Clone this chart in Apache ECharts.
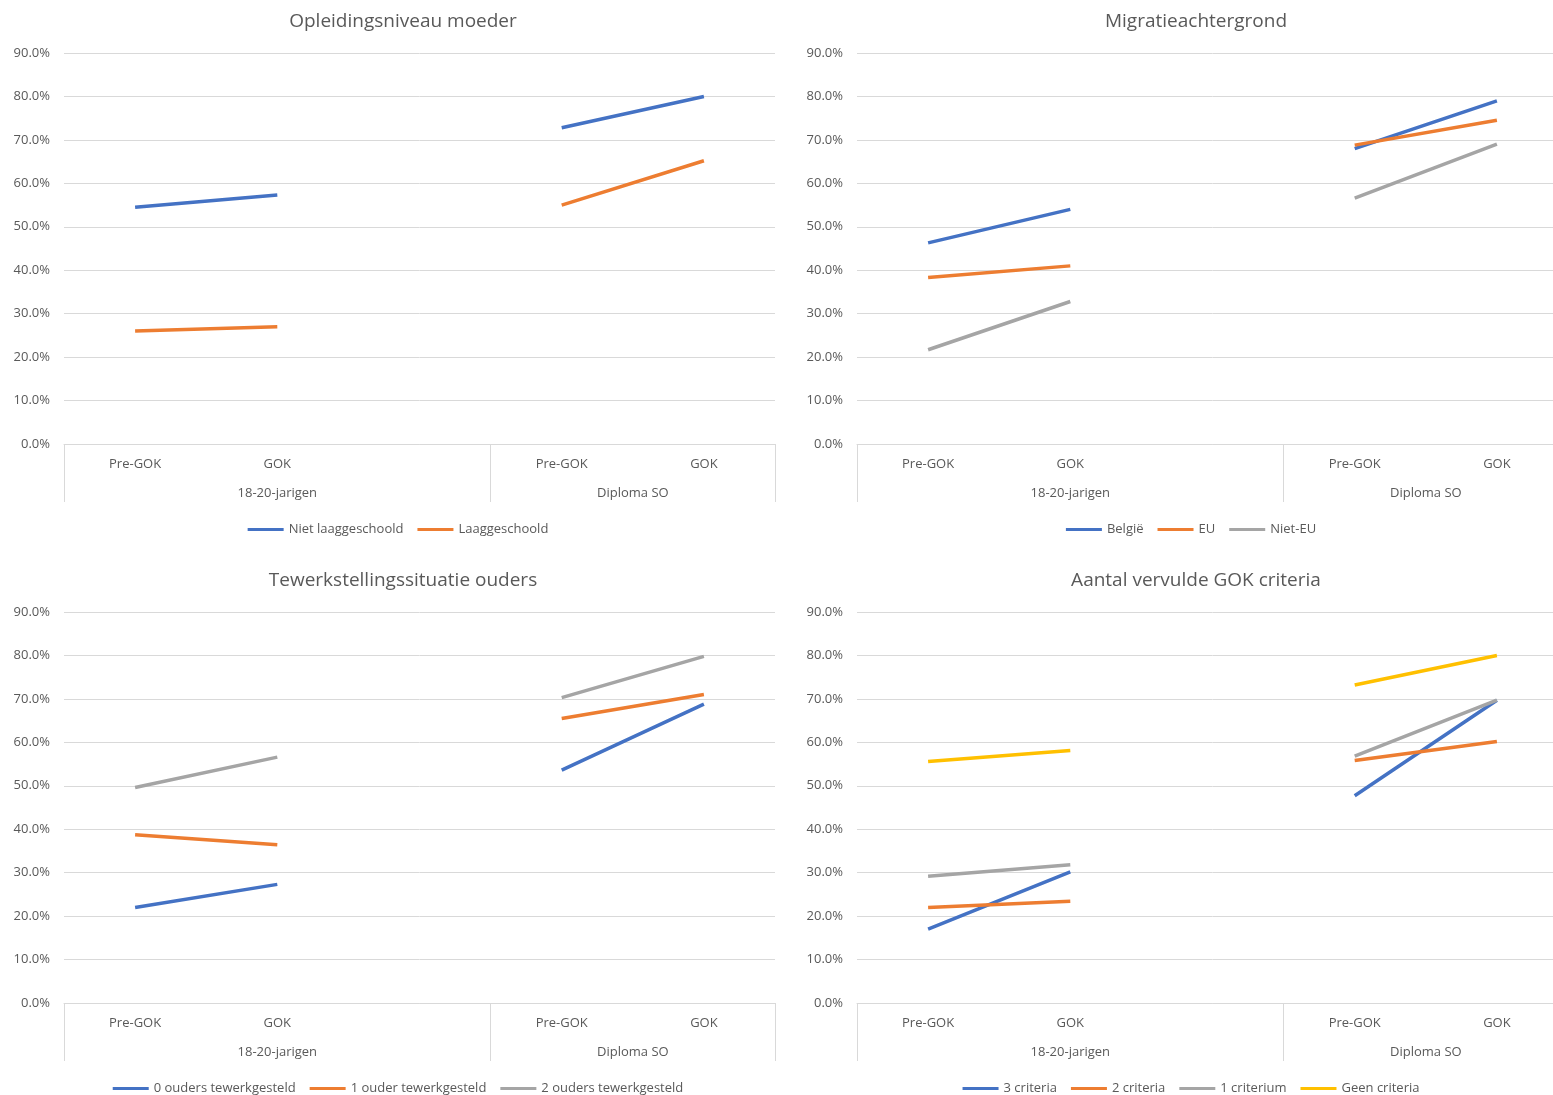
<!DOCTYPE html>
<html><head><meta charset="utf-8">
<script src="https://cdn.jsdelivr.net/npm/echarts@6/dist/echarts.min.js"></script>
<style>html,body{margin:0;background:#fff;overflow:hidden}#c{width:1580px;height:1095px}</style>
</head><body><div id="c"></div>
<script>
const categories = ['Pre-GOK', 'GOK', '', 'Pre-GOK', 'GOK']
const groups = ['18-20-jarigen', 'Diploma SO']
const colors = ['#4472C4', '#ED7D31', '#A5A5A5', '#FFC000']

const titles = ['Opleidingsniveau moeder', 'Migratieachtergrond', 'Tewerkstellingssituatie ouders', 'Aantal vervulde GOK criteria']

// percentages per panel
const moederNames = ['Niet laaggeschoold', 'Laaggeschoold']
const moederValues = [
  [54.5, 57.3, null, 72.8, 80.0],
  [26.0, 27.0, null, 55.0, 65.2]
]
const migratieNames = ['België', 'EU', 'Niet-EU']
const migratieValues = [
  [46.3, 54.0, null, 68.0, 79.0],
  [38.3, 41.0, null, 68.8, 74.5],
  [21.7, 32.8, null, 56.6, 69.0]
]
const werkNames = ['0 ouders tewerkgesteld', '1 ouder tewerkgesteld', '2 ouders tewerkgesteld']
const werkValues = [
  [22.0, 27.3, null, 53.6, 68.8],
  [38.7, 36.4, null, 65.5, 71.0],
  [49.6, 56.6, null, 70.3, 79.8]
]
const criteriaNames = ['3 criteria', '2 criteria', '1 criterium', 'Geen criteria']
const criteriaValues = [
  [17.0, 30.2, null, 47.7, 69.7],
  [22.0, 23.4, null, 55.8, 60.2],
  [29.2, 31.8, null, 56.8, 69.7],
  [55.6, 58.1, null, 73.2, 80.0]
]

const panels = [
  { names: moederNames, values: moederValues },
  { names: migratieNames, values: migratieValues },
  { names: werkNames, values: werkValues },
  { names: criteriaNames, values: criteriaValues }
]

// group axis: 11 boundary points, label at middle of each group
const groupAxis = ['', '', '', groups[0], '', '', '', '', groups[1], '', '']

const chart = echarts.init(document.getElementById('c'))
const txt = '#595959'
const font = '"Segoe UI", "Open Sans", sans-serif'
const option = { textStyle: { fontFamily: font }, title: [], grid: [], xAxis: [], yAxis: [], series: [], legend: [] }

panels.forEach((p, i) => {
  const col = i % 2, row = Math.floor(i / 2)
  const left = 64 + col * 793
  const top = 53 + row * 559
  const cx = left + 334
  option.title.push({ text: titles[i], left: cx, top: top - 46, textAlign: 'center',
    textStyle: { color: txt, fontSize: 19, fontWeight: 'normal', fontFamily: font } })
  option.grid.push({ left: left, top: top, width: 711, height: 391 })
  option.yAxis.push({ gridIndex: i, type: 'value', min: 0, max: 90, interval: 10,
    axisLabel: { formatter: v => v.toFixed(1) + '%', color: txt, fontSize: 13, margin: 14 },
    splitLine: { lineStyle: { color: '#d9d9d9' } } })
  option.xAxis.push({ gridIndex: i, type: 'category', data: categories,
    axisLine: { lineStyle: { color: '#d9d9d9' } }, axisTick: { show: false },
    axisLabel: { color: txt, fontSize: 13, margin: 14 } })
  option.xAxis.push({ gridIndex: i, type: 'category', data: groupAxis, boundaryGap: false, position: 'bottom',
    axisLine: { show: false },
    axisTick: { show: true, length: 58, interval: (idx) => idx === 0 || idx === 6 || idx === 10, lineStyle: { color: '#d9d9d9' } },
    axisLabel: { color: txt, fontSize: 13, margin: 43, interval: 0 } })
  const legendItems = []
  p.names.forEach((n, k) => {
    legendItems.push(n)
    option.series.push({ type: 'line', name: n, xAxisIndex: i * 2, yAxisIndex: i, data: p.values[k],
      showSymbol: false, symbol: 'none', connectNulls: false,
      lineStyle: { width: 3.5, color: colors[k] }, itemStyle: { color: colors[k] } })
  })
  option.legend.push({ data: legendItems, left: cx, top: top + 465, itemWidth: 36, itemHeight: 3, icon: 'rect', itemGap: 14,
    textStyle: { color: txt, fontSize: 13 }, selectedMode: false, width: 1000 })
})

chart.setOption(option)
// center legends on panel middles
chart.setOption({ legend: option.legend.map((l, i) => {
  const comp = chart.getModel().getComponent('legend', i)
  const view = chart.getViewOfComponentModel(comp)
  const w = view.group.getBoundingRect().width
  return { left: 64 + (i % 2) * 793 + 334 - w / 2 }
}) })
</script></body></html>
